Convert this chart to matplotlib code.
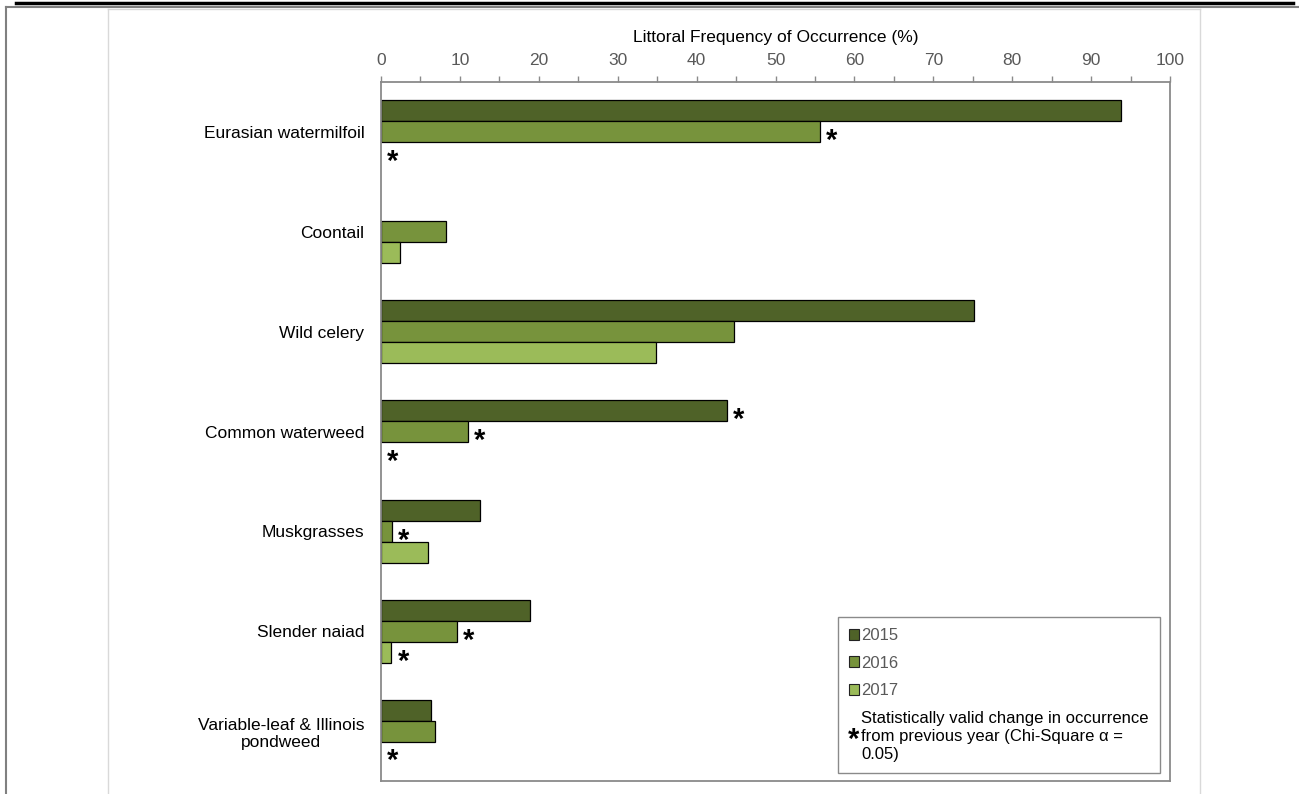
import numpy as np
import matplotlib
matplotlib.use("Agg")
import matplotlib.pyplot as plt
from matplotlib.patches import Patch
from matplotlib.lines import Line2D
from matplotlib.text import Text
from matplotlib.legend_handler import HandlerBase

plt.rcParams['font.family'] = ['Liberation Sans', 'DejaVu Sans']

# data
species = ["Eurasian watermilfoil", "Coontail", "Wild celery", "Common waterweed",
           "Muskgrasses", "Slender naiad", "Variable-leaf & Illinois\npondweed"]
years = ["2015", "2016", "2017"]
freq_2015 = [93.8, 0.0, 75.1, 43.8, 12.6, 18.9, 6.4]
freq_2016 = [55.6, 8.3, 44.7, 11.0, 1.4, 9.6, 6.9]
freq_2017 = [0.0, 2.4, 34.9, 0.0, 5.9, 1.3, 0.0]
# 1 = statistically valid change from previous year
sig_2015 = [0, 0, 0, 1, 0, 0, 0]
sig_2016 = [1, 0, 0, 1, 1, 1, 0]
sig_2017 = [1, 0, 0, 1, 0, 1, 1]
xticks = [0, 10, 20, 30, 40, 50, 60, 70, 80, 90, 100]
xlabel = "Littoral Frequency of Occurrence (%)"
sig_label = "Statistically valid change in occurrence\nfrom previous year (Chi-Square \u03b1 =\n0.05)"

colors = ["#4F6228", "#77933C", "#9BBB59"]
gray_txt = "#595959"
spine_col = "#8a8a8a"
star_size = 21


class StarHandler(HandlerBase):
    """draws a bold asterisk as legend key"""
    def create_artists(self, legend, orig_handle, xdescent, ydescent,
                       width, height, fontsize, trans):
        t = Text(width / 2 - xdescent, height / 2 - ydescent - 8, "*",
                 fontsize=star_size, fontweight="bold", ha="center", va="baseline",
                 color="black", transform=trans)
        return [t]


fig = plt.figure(figsize=(12.99, 7.94), dpi=100)
ax = fig.add_axes([381 / 1299, 1 - 781 / 794, (1170 - 381) / 1299, (781 - 82) / 794])

y = np.arange(len(species))
h = 0.21
series = [freq_2015, freq_2016, freq_2017]
sigs = [sig_2015, sig_2016, sig_2017]
for i, (vals, sg) in enumerate(zip(series, sigs)):
    pos = y + (i - 1) * h
    lws = [0.9 if v > 0 else 0 for v in vals]
    ax.barh(pos, vals, height=h, color=colors[i], edgecolor="black",
            linewidth=lws, label=years[i])
    for p, v, s in zip(pos, vals, sg):
        if s:
            ax.annotate("*", xy=(v, p), xytext=(8.6, -12.5),
                        textcoords="offset points", ha="center", va="baseline",
                        fontsize=star_size, fontweight="bold", color="black")

ax.set_xlim(0, 100)
ax.set_ylim(len(species) - 0.5, -0.5)
ax.xaxis.tick_top()
ax.xaxis.set_label_position("top")
ax.set_xticks(xticks)
ax.set_xticks(np.arange(5, 100, 10), minor=True)
ax.tick_params(axis="x", which="both", direction="out", length=4, width=1,
               color=spine_col, labelsize=12.5, labelcolor=gray_txt, pad=6)
ax.set_xlabel(xlabel, fontsize=12.5, labelpad=8)
ax.set_yticks(y)
ax.set_yticklabels(species, fontsize=12.5)
ax.tick_params(axis="y", length=0, pad=12)
for lab in ax.get_yticklabels():
    lab.set_multialignment("center")
for sp in ax.spines.values():
    sp.set_color(spine_col)
    sp.set_linewidth(1.3)

handles = [Patch(facecolor=c, edgecolor="#222222", linewidth=0.8) for c in colors]
handles.append("star")
leg = ax.legend(handles, years + [sig_label], loc="lower right",
                bbox_to_anchor=(0.987, 0.012), fontsize=12, frameon=True,
                fancybox=False, edgecolor=spine_col, framealpha=1,
                handlelength=0.65, handleheight=0.65, handletextpad=0.12,
                labelspacing=0.75, borderpad=0.65, borderaxespad=0,
                handler_map={str: StarHandler()})
leg.get_frame().set_linewidth(1)
for t in leg.get_texts()[:3]:
    t.set_color(gray_txt)
leg.get_texts()[3].set_linespacing(1.25)

# page decorations around the chart
def pxline(xs, ys, **kw):
    fig.add_artist(Line2D([x / 1299 for x in xs], [1 - v / 794 for v in ys],
                          transform=fig.transFigure, **kw))

pxline([16, 1293], [3, 3], color="black", linewidth=2.5)
pxline([6, 1299], [6.5, 6.5], color="#808080", linewidth=1.5)
pxline([6, 6], [6.5, 794], color="#808080", linewidth=1.5)
pxline([108, 1200], [8.5, 8.5], color="#d9d9d9", linewidth=1)
pxline([108, 108], [8.5, 794], color="#d9d9d9", linewidth=1)
pxline([1200, 1200], [8.5, 794], color="#d9d9d9", linewidth=1)

fig.savefig("out.png", dpi=100)
